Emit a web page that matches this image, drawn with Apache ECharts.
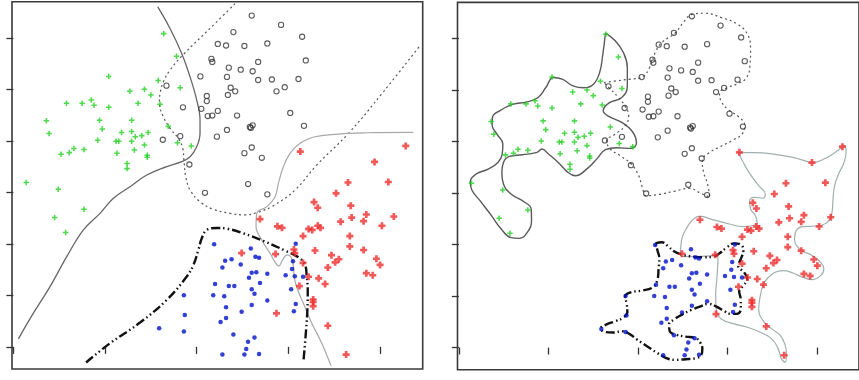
<!DOCTYPE html>
<html>
<head>
<meta charset="utf-8">
<script src="https://cdn.jsdelivr.net/npm/echarts@6/dist/echarts.min.js"></script>
<style>
  html, body { margin: 0; padding: 0; background: #fff; }
  #chart { width: 859px; height: 380px; }
</style>
</head>
<body>
<div id="chart"></div>
<script>
// tick positions (no labels in the original)
const xTicks = [0, 10, 20, 30, 40];
const yTicks = [0, 10, 20, 30, 40, 50, 60];

// class 1: green plus
const greenPts = [
  [16.4,60.8],[17.8,56.4],[10.4,52.5],[15.8,51.7],[12.7,49.6],[14.3,50.0],[15.0,48.9],[18.2,50.3],
  [5.8,47.3],[7.5,47.3],[8.5,47.9],[8.8,46.9],[10.4,46.5],[13.6,47.3],[16.0,47.1],[3.6,43.9],
  [9.4,44.0],[12.9,44.0],[3.9,41.4],[9.7,42.3],[11.8,41.6],[12.9,41.8],[13.3,40.8],[14.0,41.0],
  [14.7,41.6],[16.9,42.8],[9.2,40.1],[11.2,39.9],[11.5,39.9],[12.9,39.9],[17.9,39.6],[19.4,39.0],
  [14.3,39.2],[13.2,38.2],[6.6,38.5],[6.1,37.7],[7.7,38.3],[5.2,37.4],[11.3,37.6],[14.6,37.2],
  [14.6,36.8],[12.4,35.6],[12.4,34.6],[1.4,31.9],[4.9,30.6],[7.7,26.7],[4.5,25.1],[5.7,22.2]
];

// class 2: open circles
const circlePts = [
  [26.0,64.3],[29.2,62.5],[24.0,61.1],[31.5,60.2],[22.3,58.8],[23.2,58.5],[25.2,58.4],[27.7,58.9],
  [21.6,55.9],[21.7,55.3],[26.7,55.3],[31.9,55.6],[23.5,54.2],[24.8,53.8],[26.1,53.5],[20.4,52.5],
  [23.3,52.4],[26.7,51.8],[28.2,51.9],[31.1,52.0],[16.7,50.7],[23.7,50.3],[24.2,49.6],[28.7,49.6],
  [29.6,50.4],[23.4,48.9],[21.1,48.7],[21.1,47.7],[18.5,46.5],[20.5,46.2],[22.3,45.8],[21.7,44.9],
  [21.2,44.8],[24.4,44.9],[30.2,45.4],[25.8,42.7],[25.9,42.5],[26.1,43.0],[31.7,42.9],[23.3,42.1],
  [22.2,40.8],[18.2,40.9],[16.3,40.2],[26.0,38.7],[25.2,37.6],[27.1,36.7],[19.2,35.4],[25.6,31.6],
  [20.9,29.9],[27.7,29.6]
];

// class 3: red plus
const redPts = [
  [31.3,37.9],[42.8,39.0],[39.4,35.9],[36.5,31.9],[40.9,32.0],[35.2,29.8],[32.8,28.1],[33.2,27.0],
  [36.8,27.4],[26.9,24.8],[35.7,24.3],[36.9,25.1],[38.5,25.7],[41.5,25.3],[38.2,24.4],[28.8,23.4],
  [29.3,23.1],[32.2,22.9],[32.6,22.7],[33.2,23.5],[33.5,23.1],[40.2,23.5],[31.6,21.5],[36.7,21.5],
  [36.7,19.5],[30.6,18.9],[30.7,18.2],[32.9,18.7],[38.2,18.8],[24.9,18.2],[28.6,18.0],[31.6,16.3],
  [34.7,17.8],[35.5,17.0],[35.1,16.4],[34.3,15.4],[39.6,17.1],[40.0,15.9],[38.5,14.3],[39.2,13.9],
  [32.2,13.6],[33.3,13.3],[34.0,12.2],[31.2,11.8],[32.7,9.2],[32.7,8.7],[32.7,7.9],[28.7,6.5],
  [34.3,4.1],[36.3,-1.5]
];

// class 4: blue dots
const bluePts = [
  [21.9,19.9],[25.9,19.1],[30.8,20.0],[23.8,17.0],[23.1,16.7],[26.4,17.5],[26.8,17.3],[22.8,15.4],
  [24.8,16.0],[30.5,16.6],[26.5,14.5],[26.0,14.4],[25.7,13.4],[27.7,14.2],[29.7,13.9],[30.4,15.1],
  [30.7,13.7],[31.6,13.6],[22.0,12.2],[23.5,11.8],[24.1,11.8],[26.0,11.2],[26.3,10.3],[26.9,12.4],
  [18.6,10.0],[21.8,10.0],[23.0,9.8],[27.7,9.0],[30.3,11.2],[30.8,8.3],[23.2,7.7],[26.0,8.1],
  [24.9,6.8],[30.6,6.9],[18.7,6.2],[23.2,5.6],[22.6,4.8],[15.9,3.6],[18.6,3.0],[24.0,2.4],
  [26.3,1.8],[25.6,1.0],[25.4,-0.4],[22.8,-1.5],[25.2,-1.5],[26.8,-1.4]
];

// left panel: decision boundaries
const leftGreenEdge = [
  [15.75,66.0],[17.09,61.8],[18.36,56.95],[19.27,52.42],[20.0,47.9],[20.36,44.02],[20.36,41.43],
  [20.0,38.85],[19.27,36.91],[18.36,35.94],[16.73,34.97],[14.55,33.35],[12.73,31.09],[10.91,28.83],
  [9.45,25.92],[7.64,22.69],[5.82,17.52],[4.0,11.7],[2.18,6.53],[0.55,1.55]
];
const leftCircleEdge = [
  [24.18,66.64],[22.0,62.77],[18.47,56.62],[17.09,53.72],[16.36,51.45],[16.0,49.19],[15.93,47.25],
  [16.36,44.67],[17.09,42.4],[18.0,40.46],[18.47,38.53],[18.62,35.94],[18.8,33.03],[19.27,30.45],
  [20.36,28.18],[21.82,26.7],[23.64,25.92],[25.27,25.6],[26.55,26.05],[28.36,27.4],[30.73,30.45],
  [33.09,35.3],[36.55,41.43],[40.36,49.5],[44.25,58.24]
];
const leftRedEdge = [
  [43.64,41.63],[38.55,41.56],[36.55,41.43],[32.91,40.79],[31.27,39.5],[30.18,37.56],[29.45,34.97],
  [28.91,31.74],[28.55,29.15],[27.64,27.21],[26.55,25.92],[26.47,23.34],[27.09,20.75],[28.0,18.16],
  [28.6,16.3],[28.95,15.7],[29.4,17.0],[29.85,17.85],[30.3,17.4],[30.55,15.6],[30.65,13.3],
  [31.02,11.05],[31.71,8.14],[32.55,4.59],[33.64,0.71],[34.65,-3.68]
];
const leftBlueEdge = [
  [7.93,-3.04],[10.55,0.71],[13.82,4.72],[16.73,9.11],[18.91,13.64],[19.64,15.9],[20.18,18.81],
  [20.55,21.07],[21.09,22.69],[22.18,23.08],[23.27,22.95],[25.09,22.04],[27.45,20.43],[29.64,18.68],
  [31.09,17.39],[31.82,15.9],[32.0,13.64],[32.11,11.05],[32.07,7.18],[31.93,3.3],[31.64,-2.84]
];

// right panel: closed class regions
const rightGreenHull = [
  [16.36,61.02],[17.45,59.54],[18.36,57.27],[18.8,54.36],[18.8,50.81],[18.18,48.55],[16.73,47.45],
  [16.11,45.96],[16.73,44.86],[18.18,43.7],[19.38,41.89],[19.82,39.69],[19.16,38.66],[17.64,38.78],
  [16.36,38.4],[15.45,36.72],[14.36,34.78],[12.98,33.35],[12.18,34.0],[11.09,35.94],[10.0,37.56],
  [9.27,38.53],[8.73,37.88],[7.09,37.43],[5.64,37.1],[4.98,35.94],[4.8,34.0],[4.98,31.74],
  [5.82,29.8],[7.27,28.31],[8.07,26.89],[8.11,24.63],[7.64,22.37],[6.73,21.2],[5.82,21.33],
  [4.73,23.01],[3.64,25.6],[2.36,28.51],[1.45,30.58],[1.27,32.19],[1.93,33.68],[3.27,34.65],
  [4.36,35.94],[4.84,37.56],[4.91,39.5],[4.25,41.43],[3.71,43.18],[3.75,44.67],[4.55,45.96],
  [6.0,47.19],[7.64,47.7],[8.84,48.55],[9.71,50.48],[10.55,52.42],[11.53,52.1],[12.73,50.81],
  [13.93,50.42],[15.02,51.13],[15.71,53.39],[16.04,56.63],[16.36,61.02]
];
const rightCircleHull = [
  [16.19,51.45],[17.64,51.78],[19.09,52.1],[20.37,52.42],[21.28,54.36],[22.0,57.6],[22.73,59.34],
  [24.11,61.02],[24.99,62.96],[26.08,64.71],[27.46,64.9],[29.28,64.06],[31.09,62.77],[32.19,60.83],
  [32.55,57.92],[32.48,54.69],[32.11,52.42],[31.17,51.26],[29.93,50.42],[29.09,49.39],[29.28,47.77],
  [30.08,46.15],[31.17,44.86],[31.89,43.18],[31.68,41.63],[30.66,40.34],[29.2,39.04],[27.89,37.75],
  [27.17,36.26],[27.31,34.0],[27.75,31.74],[28.0,29.15],[27.02,29.93],[25.64,30.9],[24.11,30.38],
  [22.37,29.74],[20.91,29.48],[20.48,31.09],[20.04,33.48],[19.28,35.55],[18.0,37.23],[16.84,38.66],
  [16.48,40.14],[17.46,41.43],[18.55,43.05],[18.95,44.99],[18.59,46.74],[17.71,48.74],[16.84,50.29],
  [16.19,51.45]
];
const rightRedHull = [
  [31.17,37.82],[32.91,37.82],[35.09,37.56],[37.28,36.91],[38.37,36.39],[39.46,35.88],[40.73,36.59],
  [41.82,37.69],[42.66,38.72],[43.06,39.24],[43.2,37.88],[42.91,35.62],[42.37,33.68],[41.93,31.42],
  [41.75,28.83],[41.64,26.24],[41.09,24.3],[39.82,23.59],[38.37,23.47],[37.64,22.69],[37.46,21.07],
  [38.0,19.13],[39.46,17.84],[40.37,16.55],[40.73,15.26],[40.37,13.96],[39.46,13.19],[38.37,13.64],
  [37.28,14.48],[36.19,14.93],[35.28,14.61],[34.55,13.64],[34.0,12.35],[33.64,10.08],[33.46,7.5],
  [33.93,5.24],[34.91,3.62],[35.82,2.46],[36.37,0.71],[36.55,-1.23],[36.44,-2.84],[36.0,-2.2],
  [35.64,-0.26],[34.91,1.68],[33.64,2.97],[32.19,3.94],[30.73,4.59],[29.28,5.56],[28.73,7.18],
  [28.66,10.41],[28.8,13.64],[28.91,17.39],[28.55,17.84],[26.37,17.65],[24.73,17.84],[24.84,20.75],
  [25.35,23.01],[26.08,24.76],[26.91,25.53],[28.19,24.89],[30.19,23.98],[31.64,23.47],[33.28,24.3],
  [33.09,25.6],[32.55,26.89],[32.44,28.38],[32.91,29.15],[34.0,29.02],[34.19,29.8],[33.46,31.42],
  [32.37,34.0],[31.64,36.26],[31.17,37.82]
];
const rightBlueHull = [
  [21.93,20.23],[22.66,20.43],[23.39,19.59],[24.0,18.68],[24.91,18.03],[26.19,17.65],[27.28,17.52],
  [28.37,17.65],[29.09,18.29],[29.82,19.33],[30.73,20.23],[31.46,19.97],[31.75,18.81],[31.46,17.19],
  [31.17,15.9],[31.82,14.61],[32.19,13.32],[31.75,12.02],[31.28,10.92],[31.46,9.24],[31.46,7.5],
  [31.02,6.53],[30.37,6.53],[29.64,7.05],[28.73,7.95],[27.82,8.47],[26.91,7.95],[25.93,7.3],
  [24.91,6.4],[24.11,5.56],[23.46,4.46],[23.53,3.17],[24.19,2.52],[25.28,2.13],[26.37,1.87],
  [26.91,1.03],[27.17,-0.26],[27.02,-1.55],[26.37,-2.07],[25.28,-2.26],[24.19,-2.39],[23.09,-2.0],
  [22.08,-0.97],[20.99,0.26],[19.89,1.55],[19.02,2.65],[18.19,3.17],[17.2,2.91],[16.26,3.04],
  [15.82,3.68],[16.37,4.4],[17.46,5.11],[18.29,5.75],[18.8,6.85],[18.73,8.47],[18.55,9.89],
  [19.09,10.67],[20.37,11.05],[21.64,11.7],[22.15,13.12],[22.29,15.26],[22.37,17.19],[22.15,18.94],
  [21.93,20.23]
];

const PLUS = "path://M0,1.8H5V3.2H0ZM1.8,0H3.2V5H1.8Z";
const PLUS_BOLD = "path://M0,1.55H5V3.45H0ZM1.55,0H3.45V5H1.55Z";
const DASH_DOT = [9, 3, 1.5, 3, 1.5, 3];

const frame = { show: true, borderColor: "#3a3a3a", borderWidth: 1.6, backgroundColor: "transparent" };

function makeAxes(i) {
  const tickStyle = { show: true, inside: false, length: 7, lineStyle: { color: "#333", width: 1.3 } };
  return {
    x: {
      type: "value", gridIndex: i, min: -0.15, max: 44.65,
      axisLine: { show: false }, splitLine: { show: false },
      axisLabel: { show: false },
      axisTick: { ...tickStyle, customValues: xTicks },
    },
    y: {
      type: "value", gridIndex: i, min: -4.3, max: 67,
      axisLine: { show: false }, splitLine: { show: false },
      axisLabel: { show: false },
      axisTick: { ...tickStyle, customValues: yTicks },
    },
  };
}

function curve(i, data, color, width, type, smooth) {
  return {
    type: "line", xAxisIndex: i, yAxisIndex: i, data,
    symbol: "none", showSymbol: false, smooth, silent: true, z: 2,
    lineStyle: { color, width, type, cap: "butt" },
  };
}

function points(i) {
  return [
    { type: "scatter", xAxisIndex: i, yAxisIndex: i, data: circlePts, symbol: "circle", symbolSize: 5.2,
      itemStyle: { color: "rgba(0,0,0,0)", borderColor: "#333", borderWidth: 1.1 }, silent: true, z: 5 },
    { type: "scatter", xAxisIndex: i, yAxisIndex: i, data: greenPts, symbol: PLUS, symbolSize: 5.5,
      itemStyle: { color: "#22d022" }, silent: true, z: 5 },
    { type: "scatter", xAxisIndex: i, yAxisIndex: i, data: redPts, symbol: PLUS_BOLD, symbolSize: 7,
      itemStyle: { color: "#ee2e2e" }, silent: true, z: 5 },
    { type: "scatter", xAxisIndex: i, yAxisIndex: i, data: bluePts, symbol: "circle", symbolSize: 4.5,
      itemStyle: { color: "#0010cc" }, silent: true, z: 5 },
  ];
}

const left = makeAxes(0);
const right = makeAxes(1);

const chart = echarts.init(document.getElementById("chart"), null, { renderer: "canvas" });
chart.setOption({
  animation: false,
  backgroundColor: "#fff",
  grid: [
    { left: 12, top: 1.7, width: 410.7, height: 367.3, ...frame },
    { left: 457.5, top: 2.4, width: 410.7, height: 367.3, ...frame },
  ],
  xAxis: [left.x, right.x],
  yAxis: [left.y, right.y],
  series: [
    curve(0, leftGreenEdge, "#666", 1.3, "solid", 0.4),
    curve(0, leftCircleEdge, "#555", 1.2, [2, 3], 0.4),
    curve(0, leftRedEdge, "#a8a8a8", 1.2, "solid", 0.4),
    curve(0, leftBlueEdge, "#111", 2.4, DASH_DOT, 0.4),
    curve(1, rightGreenHull, "#5a5a5a", 1.4, "solid", 0.45),
    curve(1, rightCircleHull, "#555", 1.2, [2, 3], 0.45),
    curve(1, rightRedHull, "#a2afaf", 1.2, "solid", 0.45),
    curve(1, rightBlueHull, "#111", 2.4, DASH_DOT, 0.45),
    ...points(0),
    ...points(1),
  ],
});
</script>
</body>
</html>
